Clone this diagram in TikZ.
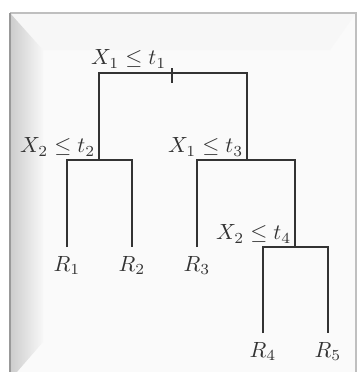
\documentclass[tikz,border=0pt]{standalone}
\usepackage{amsmath, amssymb}
\usepackage{xcolor}
\usepackage{tikz}
\usetikzlibrary{calc}

\begin{document}
\begin{tikzpicture}[x=0.16mm,y=-0.16mm]
\tikzset{branch/.style={line width=0.7pt,color=black!80},
         splitlab/.style={anchor=south east,inner sep=1.5pt,text=black!80},
         leaflab/.style={anchor=north,inner sep=4pt,text=black!80}}
\useasboundingbox (0,0) rectangle (359,372);
% Frame
\fill[white] (0,0) rectangle (359,372);
\fill[black!2] (10,13) rectangle (356,380);
\fill[black!3] (10,13) -- (356,13) -- (330,50) -- (43,50) -- cycle;
\shade[left color=black!20,right color=black!3] (10,13) -- (43,50) -- (43,342) -- (10,380) -- cycle;
\draw[black!25,line width=0.6pt] (356,380) -- (356,13) -- (10,13);
\draw[black!40,line width=0.8pt] (10,13) -- (10,380);
% Split points
\coordinate (root) at (172,73);
\coordinate (s2) at (99,160);
\coordinate (s3) at (247,160);
\coordinate (s4) at (295,247);
% Split labels
\node[splitlab] (lab1) at ($(root)+(-2,-1)$) {$X_1 \le t_1$};
\node[splitlab] (lab2) at (s2) {$X_2 \le t_2$};
\node[splitlab] (lab3) at (s3) {$X_1 \le t_3$};
\node[splitlab] (lab4) at (s4) {$X_2 \le t_4$};
% Leaves
\node[leaflab] (R1) at (67,247) {$R_1$};
\node[leaflab] (R2) at (132,247) {$R_2$};
\node[leaflab] (R3) at (197,247) {$R_3$};
\node[leaflab] (R4) at (263,333) {$R_4$};
\node[leaflab] (R5) at (328,333) {$R_5$};
% Branches
\draw[branch] (s2) |- (root) -| (s3);
\draw[branch] ($(root)+(0,-5)$) -- ($(root)+(0,10)$);
\draw[branch] (R1.north) |- (s2) -| (R2.north);
\draw[branch] (R3.north) |- (s3) -| (s4);
\draw[branch] (R4.north) |- (s4) -| (R5.north);
\end{tikzpicture}
\end{document}
